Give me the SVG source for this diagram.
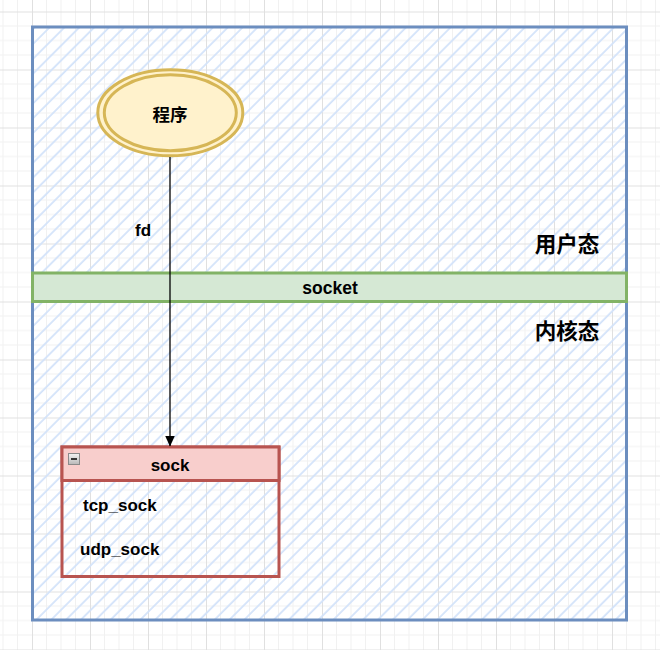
<svg xmlns="http://www.w3.org/2000/svg" width="660" height="650" viewBox="0 0 660 650">
  <defs>
    <pattern id="grid" patternUnits="userSpaceOnUse" x="32" y="11.5" width="58" height="58">
      <path d="M14.5 0V58M29 0V58M43.5 0V58M0 14.5H58M0 29H58M0 43.5H58" stroke="#f1f1f1" stroke-width="1" fill="none"/>
      <path d="M0.5 0V58M0 0.5H58" stroke="#e0e0e0" stroke-width="1" fill="none"/>
    </pattern>
    <pattern id="hatch" patternUnits="userSpaceOnUse" width="10.5" height="10.5" patternTransform="rotate(45)">
      <line x1="2" y1="0" x2="2" y2="10.5" stroke="#d3e3fa" stroke-width="1.8"/>
    </pattern>
    <marker id="arrow" markerWidth="12" markerHeight="12" refX="10.5" refY="5.5" orient="auto" markerUnits="userSpaceOnUse">
      <path d="M0 0.5L11 5.5L0 10.5Z" fill="#000"/>
    </marker>
    <linearGradient id="btn" x1="0" y1="0" x2="0" y2="1">
      <stop offset="0" stop-color="#f4f4f4"/>
      <stop offset="1" stop-color="#b8b8b8"/>
    </linearGradient>
  </defs>
  <style>
    .t { font-family: "Liberation Sans", Arial, "Noto Sans CJK SC", sans-serif; font-weight: bold; fill: #000; }
  </style>

  <rect width="660" height="650" fill="#ffffff"/>
  <rect width="660" height="650" fill="url(#grid)"/>

  <g id="container">
    <rect x="32.5" y="27" width="594" height="593" fill="url(#hatch)" stroke="#6c8ebf" stroke-width="3"/>
    <text class="t" x="567" y="252" font-size="21.5" text-anchor="middle">用户态</text>
    <text class="t" x="567" y="339" font-size="21.5" text-anchor="middle">内核态</text>
  </g>

  <g id="socket">
    <rect x="32.5" y="273" width="594" height="28.5" fill="#d5e8d4" stroke="#82b366" stroke-width="3"/>
    <text class="t" x="330" y="294" font-size="17.5" text-anchor="middle">socket</text>
  </g>

  <g id="program">
    <ellipse cx="170.3" cy="112.8" rx="72.5" ry="43" fill="#fff2cc" stroke="#d6b656" stroke-width="3"/>
    <ellipse cx="170.3" cy="112.8" rx="66" ry="38" fill="none" stroke="#d6b656" stroke-width="3"/>
    <text class="t" x="170" y="120.5" font-size="17.5" text-anchor="middle">程序</text>
  </g>

  <g id="sock">
    <rect x="62" y="447" width="217" height="129.5" fill="none" stroke="#b85450" stroke-width="3"/>
    <rect x="62" y="447" width="217" height="33.5" fill="#f8cecc" stroke="#b85450" stroke-width="3"/>
    <rect x="68.5" y="453.5" width="11" height="11" fill="url(#btn)" stroke="#8a8a8a" stroke-width="1"/>
    <line x1="71" y1="459" x2="77" y2="459" stroke="#000" stroke-width="1.5"/>
    <text class="t" x="170" y="470.5" font-size="17" text-anchor="middle">sock</text>
    <text class="t" x="83" y="511" font-size="17">tcp_sock</text>
    <text class="t" x="80" y="555" font-size="17">udp_sock</text>
  </g>

  <g id="connectors">
    <line x1="170" y1="157" x2="170" y2="446" stroke="#000" stroke-width="1.3" marker-end="url(#arrow)"/>
    <text class="t" x="143" y="236" font-size="17" text-anchor="middle">fd</text>
  </g>
</svg>
